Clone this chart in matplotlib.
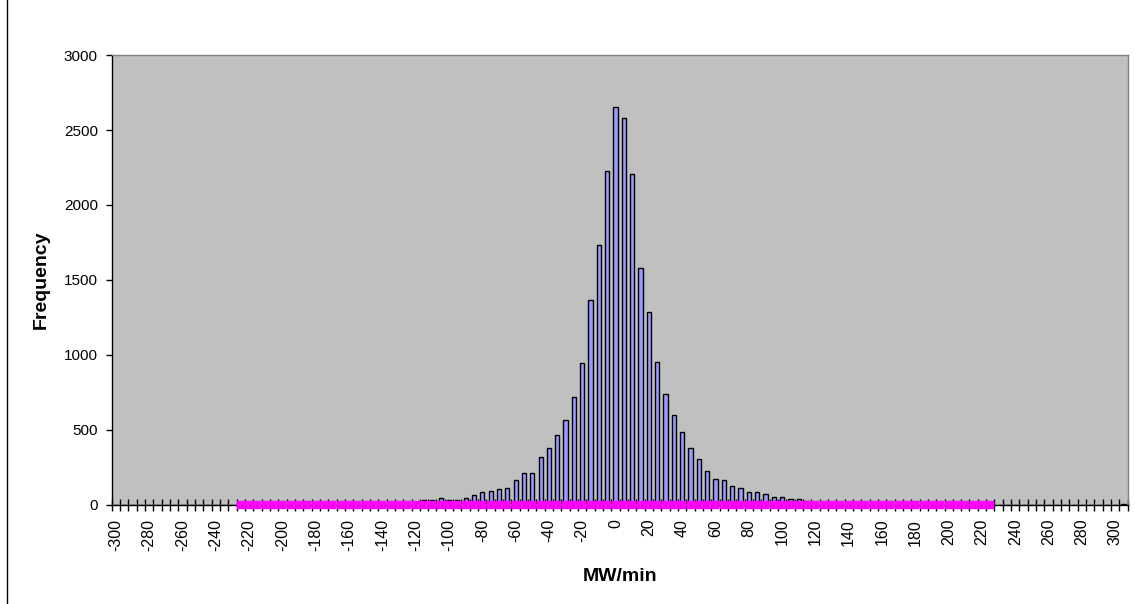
import matplotlib
matplotlib.use("Agg")
import matplotlib.pyplot as plt
from matplotlib.lines import Line2D
import numpy as np

plt.rcParams['font.family'] = ['Liberation Sans', 'DejaVu Sans']

# Categories: -300 .. 300 step 5, plus a final unlabeled "More" bin
bins = list(range(-300, 305, 5)) + ["More"]

# Frequency per bin
freq_left_far = [2, 0, 0, 0, 0, 0, 0, 0, 0, 0, 0, 0, 2]      # -300 .. -240
freq_left_tail = [0] * 24                                    # -235 .. -120
freq_core = [33, 33, 44, 33, 33, 44, 64, 87, 96, 107, 116, 167, 211, 211,   # -115 .. -50
             322, 382, 464, 567, 722, 945, 1367, 1735, 2229,                # -45 .. -5
             2651, 2578, 2209, 1582, 1287, 956, 740, 598, 484, 382,         # 0 .. 45
             309, 229, 176, 167, 127, 113, 84, 84, 73, 53, 53, 42, 42, 25]  # 50 .. 115
freq_right_tail = [0] * 37 + [3]                                           # 120 .. 300, More
frequency = freq_left_far + freq_left_tail + freq_core + freq_right_tail

# Second series (magenta) from -225 to 225
fit_bins = list(range(-225, 230, 5))
fit_values = [0] * len(fit_bins)

ytick_values = [0, 500, 1000, 1500, 2000, 2500, 3000]
xtick_labels = [str(v) for v in range(-300, 305, 20)]

fig = plt.figure(figsize=(11.35, 6.04), dpi=100)
ax = fig.add_axes([0.0984, 0.164, 0.8952, 0.7449])
ax.set_facecolor('#C0C0C0')

x = np.arange(len(bins))
ax.bar(x, frequency, width=0.5, color='#9999FF', edgecolor='black', linewidth=1.0, zorder=2)

fit_x = [bins.index(b) for b in fit_bins]
ax.plot(fit_x, fit_values, color='#FF00FF', linewidth=2, marker='s', markersize=5.9,
        markeredgecolor='#FF00FF', markeredgewidth=0.3, clip_on=False, zorder=5)

ax.set_xlim(-0.5, len(bins) - 0.5)
ax.set_ylim(0, 3000)

# x ticks: labels at every 4th category, cross tick marks at category boundaries
label_pos = [bins.index(int(t)) for t in xtick_labels]
ax.set_xticks(label_pos)
ax.set_xticklabels(xtick_labels, rotation=90, fontsize=11.5)
ax.tick_params(axis='x', which='major', length=0, pad=10)
ax.set_xticks(np.arange(-0.5, len(bins), 1.0), minor=True)
ax.tick_params(axis='x', which='minor', direction='inout', length=9, width=1, color='black')

ax.set_yticks(ytick_values)
ax.set_yticklabels([str(v) for v in ytick_values], fontsize=11)
ax.tick_params(axis='y', direction='out', length=4, width=1, color='black', pad=6)

for side in ['top', 'right']:
    ax.spines[side].set_color('#808080')
    ax.spines[side].set_linewidth(1)
for side in ['left', 'bottom']:
    ax.spines[side].set_color('black')
    ax.spines[side].set_linewidth(1)

ax.set_xlabel('MW/min', fontsize=14, fontweight='bold', labelpad=12)
ax.set_ylabel('Frequency', fontsize=14, fontweight='bold', labelpad=10)

fig.add_artist(Line2D([6.5 / 1135, 6.5 / 1135], [0, 1], color='black', linewidth=1))

fig.savefig('out.png', dpi=100, facecolor='white')
